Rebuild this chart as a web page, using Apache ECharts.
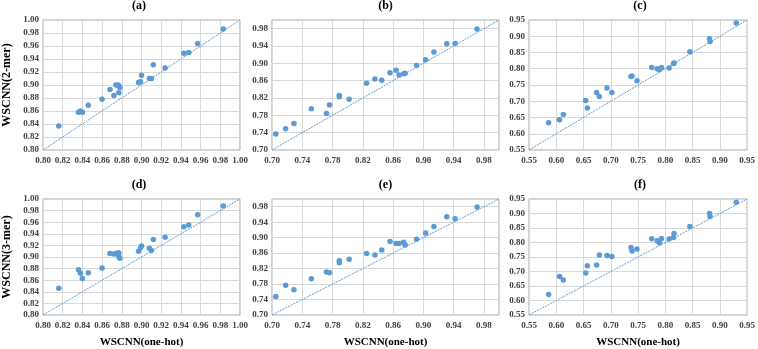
<!DOCTYPE html>
<html>
<head>
<meta charset="utf-8">
<script src="https://cdn.jsdelivr.net/npm/echarts@6/dist/echarts.min.js"></script>
<style>
  html, body { margin: 0; padding: 0; background: #fff; }
  #main { width: 758px; height: 349px; }
</style>
</head>
<body>
<div id="main"></div>
<script>
// panel titles / axis names
var panelTitles = ['(a)', '(b)', '(c)', '(d)', '(e)', '(f)'];
var yNames = ['WSCNN(2-mer)', '', '', 'WSCNN(3-mer)', '', ''];
var xName = 'WSCNN(one-hot)';

// axis ranges: [min, max, interval]
var rangeA = [0.80, 1.00, 0.02];
var rangeB = [0.70, 1.00, 0.04];
var rangeC = [0.55, 0.95, 0.05];

// dataset 1 (panels a, d)
var oneHot1 = [0.816, 0.836, 0.838, 0.840, 0.846, 0.860, 0.868, 0.872, 0.874, 0.876, 0.877, 0.877, 0.878, 0.897, 0.899, 0.900, 0.908, 0.910, 0.912, 0.924, 0.943, 0.948, 0.957, 0.983];
var mer2_1 = [0.837, 0.858, 0.860, 0.858, 0.869, 0.878, 0.893, 0.884, 0.900, 0.900, 0.899, 0.888, 0.896, 0.904, 0.905, 0.915, 0.910, 0.910, 0.931, 0.926, 0.949, 0.950, 0.964, 0.986];
var mer3_1 = [0.846, 0.878, 0.872, 0.863, 0.873, 0.881, 0.906, 0.905, 0.906, 0.907, 0.907, 0.901, 0.898, 0.910, 0.916, 0.919, 0.915, 0.911, 0.930, 0.934, 0.952, 0.955, 0.973, 0.988];

// dataset 2 (panels b, e)
var oneHot2 = [0.705, 0.718, 0.729, 0.752, 0.772, 0.776, 0.789, 0.789, 0.802, 0.825, 0.836, 0.845, 0.856, 0.864, 0.868, 0.874, 0.876, 0.891, 0.903, 0.914, 0.931, 0.942, 0.971];
var mer2_2 = [0.737, 0.749, 0.761, 0.795, 0.784, 0.804, 0.826, 0.823, 0.817, 0.854, 0.864, 0.861, 0.878, 0.884, 0.873, 0.876, 0.877, 0.895, 0.908, 0.926, 0.945, 0.946, 0.979];
var mer3_2 = [0.748, 0.777, 0.765, 0.794, 0.811, 0.809, 0.840, 0.835, 0.844, 0.859, 0.855, 0.868, 0.890, 0.885, 0.885, 0.888, 0.881, 0.896, 0.912, 0.929, 0.954, 0.949, 0.979];

// dataset 3 (panels c, f)
var oneHot3 = [0.586, 0.606, 0.613, 0.654, 0.657, 0.674, 0.679, 0.693, 0.702, 0.737, 0.739, 0.748, 0.775, 0.785, 0.789, 0.793, 0.807, 0.815, 0.816, 0.845, 0.881, 0.882, 0.930];
var mer2_3 = [0.634, 0.643, 0.659, 0.702, 0.679, 0.727, 0.715, 0.741, 0.727, 0.776, 0.778, 0.763, 0.804, 0.800, 0.797, 0.804, 0.802, 0.816, 0.818, 0.852, 0.892, 0.884, 0.941];
var mer3_3 = [0.621, 0.683, 0.671, 0.695, 0.720, 0.722, 0.757, 0.755, 0.752, 0.783, 0.771, 0.778, 0.813, 0.806, 0.799, 0.814, 0.812, 0.817, 0.831, 0.855, 0.900, 0.890, 0.939];

var blue = '#5B9BD5';
var tickFont = { fontFamily: 'Liberation Serif', fontWeight: 'bold', fontSize: 9, color: '#404040' };

// grid positions (left, top, width, height)
var grids = [
  { left: 38, top: 20, width: 202, height: 130 },
  { left: 272, top: 20, width: 227, height: 130 },
  { left: 529, top: 20, width: 222, height: 130 },
  { left: 38, top: 199, width: 202, height: 120 },
  { left: 272, top: 199, width: 227, height: 120 },
  { left: 529, top: 199, width: 222, height: 120 }
];
var ranges = [rangeA, rangeB, rangeC, rangeA, rangeB, rangeC];
var xs = [oneHot1, oneHot2, oneHot3, oneHot1, oneHot2, oneHot3];
var ys = [mer2_1, mer2_2, mer2_3, mer3_1, mer3_2, mer3_3];

function zip(a, b) {
  return a.map(function (v, i) { return [v, b[i]]; });
}

function axis(r, i, isX) {
  var o = {
    type: 'value',
    gridIndex: i,
    min: r[0],
    max: r[1],
    interval: r[2],
    axisLine: { show: false },
    axisTick: { show: false },
    splitLine: { show: true, lineStyle: { color: '#d9d9d9', width: 1 } },
    axisLabel: Object.assign({
      margin: isX ? 6 : 4,
      formatter: function (v) { return v.toFixed(2); }
    }, tickFont)
  };
  // excel-like: no label at the 1.00 end for the 0.04 step axes
  if (r === rangeB) o.axisLabel.showMaxLabel = false;
  return o;
}

var option = {
  animation: false,
  title: [],
  grid: [],
  xAxis: [],
  yAxis: [],
  series: []
};

grids.forEach(function (g, i) {
  var r = ranges[i];
  option.grid.push(Object.assign({ show: true, borderColor: '#a6a6a6', borderWidth: 1 }, g));
  option.title.push({
    text: panelTitles[i],
    left: g.left + g.width / 2,
    top: g.top - 20,
    padding: 0,
    textAlign: 'center',
    textStyle: { fontFamily: 'Liberation Serif', fontWeight: 'bold', fontSize: 12, color: '#000' }
  });
  var xa = axis(r, i, true);
  if (i >= 3) {
    xa.name = xName;
    xa.nameLocation = 'middle';
    xa.nameGap = 22;
    xa.nameTextStyle = { fontFamily: 'Liberation Serif', fontWeight: 'bold', fontSize: 11, color: '#000' };
  }
  var ya = axis(r, i, false);
  if (yNames[i]) {
    ya.name = yNames[i];
    ya.nameLocation = 'middle';
    ya.nameGap = 30;
    ya.nameTextStyle = { fontFamily: 'Liberation Serif', fontWeight: 'bold', fontSize: 12, color: '#000' };
  }
  option.xAxis.push(xa);
  option.yAxis.push(ya);
  // y = x reference line
  option.series.push({
    type: 'line',
    xAxisIndex: i,
    yAxisIndex: i,
    data: [[r[0], r[0]], [r[1], r[1]]],
    symbol: 'none',
    silent: true,
    lineStyle: { color: blue, width: 1, type: [2, 1] }
  });
  option.series.push({
    type: 'scatter',
    xAxisIndex: i,
    yAxisIndex: i,
    data: zip(xs[i], ys[i]),
    symbolSize: 5.5,
    itemStyle: { color: blue, opacity: 1 }
  });
});

var chart = echarts.init(document.getElementById('main'));
chart.setOption(option);
</script>
</body>
</html>
